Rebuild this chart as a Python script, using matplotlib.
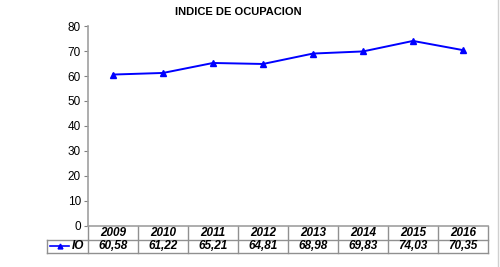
import matplotlib.pyplot as plt
from matplotlib.lines import Line2D

plt.rcParams['font.family'] = ['Liberation Sans', 'DejaVu Sans']

# data
years = ['2009', '2010', '2011', '2012', '2013', '2014', '2015', '2016']
io = [60.58, 61.22, 65.21, 64.81, 68.98, 69.83, 74.03, 70.35]
io_labels = ['60,58', '61,22', '65,21', '64,81', '68,98', '69,83', '74,03', '70,35']
yticks = [0, 10, 20, 30, 40, 50, 60, 70, 80]

fig = plt.figure(figsize=(5, 2.67), dpi=100)
ax = fig.add_axes([0.176, 0.1536, 0.8, 0.749])

x = list(range(len(years)))
ax.plot(x, io, color='#0000ff', lw=1.4, marker='^', ms=4.5)

ax.set_xlim(-0.5, len(years) - 0.5)
ax.set_ylim(0, 80)
ax.set_yticks(yticks)
ax.set_xticks([])
ax.tick_params(axis='y', labelsize=8.5, length=3, color='#808080', pad=2)
for s in ['top', 'right']:
    ax.spines[s].set_visible(False)
ax.spines['left'].set_color('#a0a0a0')
ax.spines['left'].set_linewidth(1.2)
ax.spines['bottom'].set_color('#a0a0a0')
ax.spines['bottom'].set_linewidth(1.2)

fig.text(0.476, 0.955, 'INDICE DE OCUPACION', ha='center', va='center',
         fontsize=8, fontweight='bold')

# table under the axis
tr = ax.get_xaxis_transform()
r1, r2 = -0.07, -0.135
gc = '#909090'
left_x = -0.5 - 41 / 50.0
ax.add_line(Line2D([-0.5, 7.5], [r1, r1], transform=tr, color=gc, lw=1, clip_on=False))
ax.add_line(Line2D([left_x, 7.5], [r2, r2], transform=tr, color=gc, lw=1, clip_on=False))
ax.add_line(Line2D([left_x, -0.5], [r1, r1], transform=tr, color=gc, lw=1, clip_on=False))
ax.add_line(Line2D([left_x, left_x], [r1, r2], transform=tr, color=gc, lw=1, clip_on=False))
for i in range(len(years) + 1):
    xv = i - 0.5
    ax.add_line(Line2D([xv, xv], [0, r2], transform=tr, color=gc, lw=1, clip_on=False))
for i in range(len(years)):
    ax.text(i, r1 / 2, years[i], transform=tr, ha='center', va='center',
            fontsize=8.5, fontweight='bold', style='italic')
    ax.text(i, (r1 + r2) / 2, io_labels[i], transform=tr, ha='center', va='center',
            fontsize=8.5, fontweight='bold', style='italic')

# legend key
ax.add_line(Line2D([left_x + 0.06, left_x + 0.44], [(r1 + r2) / 2] * 2, transform=tr,
                   color='#0000ff', lw=1.2, clip_on=False))
ax.add_line(Line2D([left_x + 0.25], [(r1 + r2) / 2], transform=tr, color='#0000ff',
                   marker='^', ms=3.5, clip_on=False))
ax.text(left_x + 0.5, (r1 + r2) / 2, 'IO', transform=tr, ha='left', va='center',
        fontsize=8.5, fontweight='bold', style='italic')

# chart border on the right
fig.add_artist(Line2D([0.996, 0.996], [0, 1], transform=fig.transFigure, color='#d0d0d0', lw=1))

fig.savefig('out.png', dpi=100)
